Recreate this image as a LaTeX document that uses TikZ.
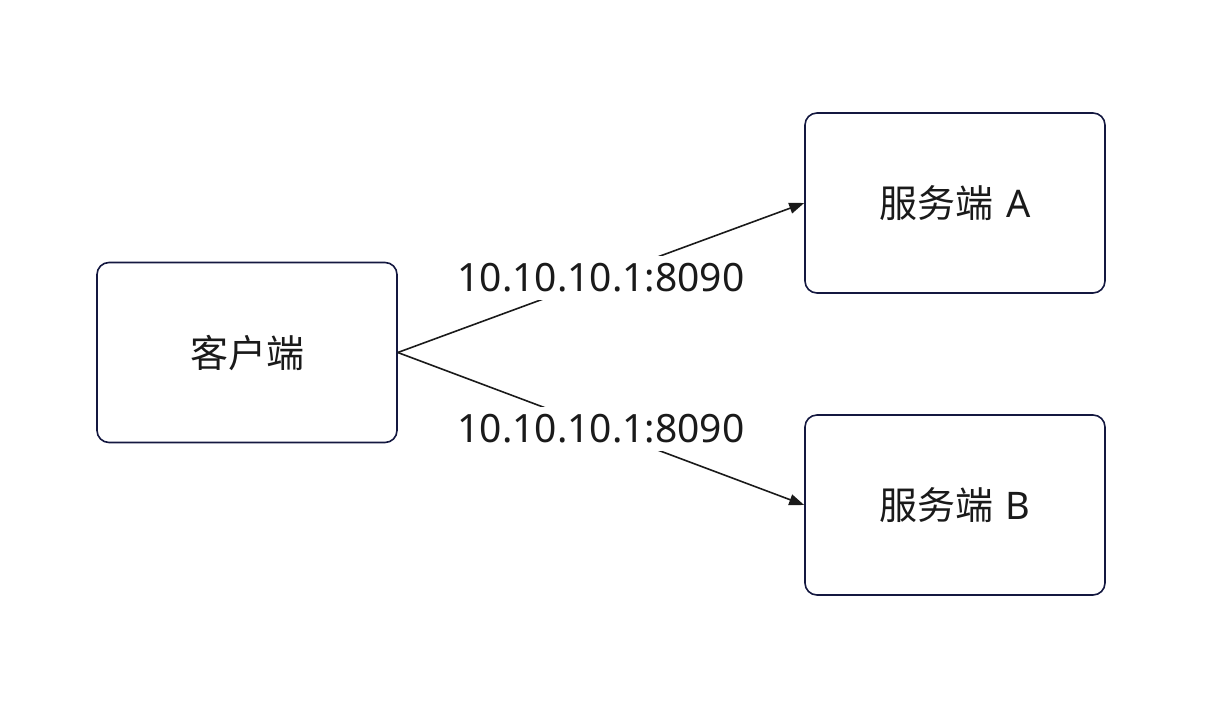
\documentclass[tikz,border=0pt]{standalone}
\usepackage{fontspec}
\setmainfont{Noto Sans}
\newfontfamily\cjk{Noto Sans CJK SC}
\usetikzlibrary{arrows.meta}
\definecolor{boxline}{HTML}{141840}
\definecolor{txt}{HTML}{1A1A1A}
\begin{document}
\begin{tikzpicture}[x=1pt,y=-1pt,
  box/.style={draw=boxline,line width=1.6pt,rounded corners=12pt,minimum width=300pt,minimum height=180pt,inner sep=0pt,font=\fontsize{38}{40}\selectfont,text=txt},
  conn/.style={draw=txt,line width=1.6pt,-{Triangle[length=15pt,width=11pt]}},
  lbl/.style={fill=white,inner xsep=1pt,inner ysep=7.5pt,font=\fontsize{39}{40}\selectfont,text=txt}]
\useasboundingbox (0,0) rectangle (1218,716);
\node[box] (client) at (247,352.5) {\cjk 客户端};
\node[box] (sa) at (955,203) {{\cjk 服务端}\,\,A};
\node[box] (sb) at (955,505) {{\cjk 服务端}\,\,B};
\draw[conn] (client.east) -- (sa.west);
\draw[conn] (client.east) -- (sb.west);
\path (client.east) -- node[lbl] (l1) {10.10.10.1:8090} (sa.west);
\path (client.east) -- node[lbl] (l2) {10.10.10.1:8090} (sb.west);
\end{tikzpicture}
\end{document}
